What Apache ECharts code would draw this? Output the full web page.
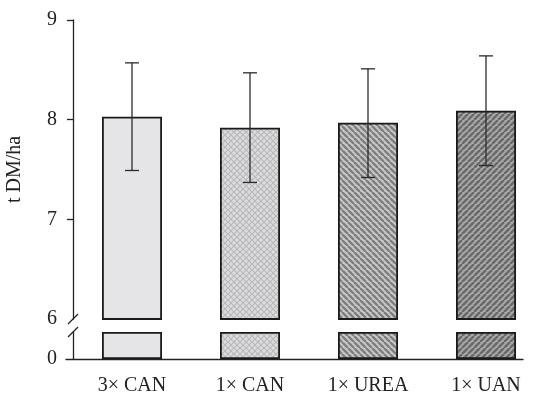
<!DOCTYPE html>
<html>
<head>
<meta charset="utf-8">
<script src="https://cdn.jsdelivr.net/npm/echarts@6/dist/echarts.min.js"></script>
<style>
  html, body { margin: 0; padding: 0; background: #fff; }
  #chart { width: 543px; height: 397px; }
</style>
</head>
<body>
<div id="chart"></div>
<script>
// Dry-matter yield per fertiliser treatment (t DM/ha), mean with error range
const categories = ['3\u00d7 CAN', '1\u00d7 CAN', '1\u00d7 UREA', '1\u00d7 UAN'];
const meanYield = [8.03, 7.92, 7.97, 8.09];
const errLow = [7.49, 7.37, 7.42, 7.54];
const errHigh = [8.57, 8.47, 8.51, 8.64];
const upperTicks = [6, 7, 8, 9];
const lowerTicks = [0];

const FONT = '"Liberation Serif", "DejaVu Serif", serif';
const INK = '#222';
const FS = 20;

// ---- fill patterns for each treatment ----
function makeTile(size, draw) {
  const c = document.createElement('canvas');
  c.width = size; c.height = size;
  draw(c.getContext('2d'), size);
  return { image: c, repeat: 'repeat' };
}
const solidFill = '#e5e5e7';
const crossFill = makeTile(6, (g, s) => {
  g.fillStyle = '#dcdcde'; g.fillRect(0, 0, s, s);
  g.strokeStyle = '#b9b9bb'; g.lineWidth = 1.2;
  g.beginPath();
  g.moveTo(0, 0); g.lineTo(s, s);
  g.moveTo(s, 0); g.lineTo(0, s);
  g.stroke();
});
function stripeTile(size, bg, fg, width, forward) {
  return makeTile(size, (g, s) => {
    g.fillStyle = bg; g.fillRect(0, 0, s, s);
    g.strokeStyle = fg; g.lineWidth = width;
    g.beginPath();
    for (let k = -1; k <= 1; k++) {
      if (forward) { g.moveTo(k * s, s); g.lineTo(k * s + s, 0); }
      else { g.moveTo(k * s, 0); g.lineTo(k * s + s, s); }
    }
    g.stroke();
  });
}
const ureaFill = stripeTile(6, '#c9c9c9', '#7f7f7f', 2.4, false);
const uanFill = stripeTile(6, '#ababab', '#6a6a6a', 2.6, true);
const fills = [solidFill, crossFill, ureaFill, uanFill];

const barStyle = (i) => ({
  color: fills[i],
  borderColor: '#1a1a1a',
  borderWidth: 1.8
});

const lowerMax = 6;
const stubValues = meanYield.map(v => Math.min(v, lowerMax));

const AXIS_X = 73;
const chart = echarts.init(document.getElementById('chart'), null, { renderer: 'canvas' });

const option = {
  animation: false,
  backgroundColor: '#fff',
  grid: [
    { left: AXIS_X, top: 20, width: 472, height: 299, outerBoundsMode: 'none', containLabel: false },   // upper panel 6..9
    { left: AXIS_X, top: 332, width: 472, height: 27, outerBoundsMode: 'none', containLabel: false },   // lower panel 0..6 (compressed)
    { left: 66, top: 358, width: 457, height: 1, outerBoundsMode: 'none', containLabel: false }         // baseline
  ],
  xAxis: [
    { gridIndex: 0, type: 'category', data: categories, show: false },
    {
      gridIndex: 1, type: 'category', data: categories,
      axisLine: { show: false }, axisTick: { show: false },
      axisLabel: { color: INK, fontFamily: FONT, fontSize: FS, margin: 17 }
    },
    {
      gridIndex: 2, type: 'value', min: 0, max: 1,
      axisLine: { show: true, lineStyle: { color: INK, width: 1.3 } },
      axisTick: { show: false }, axisLabel: { show: false }, splitLine: { show: false }
    }
  ],
  yAxis: [
    {
      gridIndex: 0, type: 'value', min: 6, max: 9, interval: 1,
      name: 't DM/ha', nameLocation: 'middle', nameGap: 48,
      nameTextStyle: { color: INK, fontFamily: FONT, fontSize: FS },
      axisLine: { show: true, lineStyle: { color: INK, width: 1.3 } },
      axisTick: { show: true, length: 6, customValues: [7, 8, 9], lineStyle: { color: INK, width: 1.3 } },
      axisLabel: { color: INK, fontFamily: FONT, fontSize: FS, margin: 16, customValues: upperTicks },
      splitLine: { show: false }
    },
    {
      gridIndex: 1, type: 'value', min: 0, max: lowerMax, interval: lowerMax,
      axisLine: { show: true, lineStyle: { color: INK, width: 1.3 } },
      axisTick: { show: false },
      axisLabel: { color: INK, fontFamily: FONT, fontSize: FS, margin: 16, customValues: lowerTicks },
      splitLine: { show: false }
    },
    { gridIndex: 2, type: 'value', show: false, min: 0, max: 1 }
  ],
  series: [
    {
      type: 'bar', xAxisIndex: 0, yAxisIndex: 0, barWidth: 60, clip: true,
      data: meanYield.map((v, i) => ({ value: v, itemStyle: barStyle(i) }))
    },
    {
      type: 'bar', xAxisIndex: 1, yAxisIndex: 1, barWidth: 60,
      data: stubValues.map((v, i) => ({ value: v, itemStyle: barStyle(i) }))
    },
    {
      type: 'custom', xAxisIndex: 0, yAxisIndex: 0, z: 5,
      data: categories.map((c, i) => [i, errLow[i], errHigh[i]]),
      encode: { x: 0, y: [1, 2] },
      renderItem: (params, api) => {
        const lo = api.coord([api.value(0), api.value(1)]);
        const hi = api.coord([api.value(0), api.value(2)]);
        const cap = 7;
        const style = { stroke: '#2a2a2a', lineWidth: 1.3 };
        return {
          type: 'group',
          children: [
            { type: 'line', shape: { x1: hi[0], y1: hi[1], x2: lo[0], y2: lo[1] }, style },
            { type: 'line', shape: { x1: hi[0] - cap, y1: hi[1], x2: hi[0] + cap, y2: hi[1] }, style },
            { type: 'line', shape: { x1: lo[0] - cap, y1: lo[1], x2: lo[0] + cap, y2: lo[1] }, style }
          ]
        };
      }
    }
  ]
};
chart.setOption(option);

// Axis-break slashes placed at the ends of the two y-axis segments
const yUpper = chart.convertToPixel({ yAxisIndex: 0 }, 6);
const yLower = chart.convertToPixel({ yAxisIndex: 1 }, lowerMax);
const slash = (yc) => ({
  type: 'line', z: 10,
  shape: { x1: AXIS_X - 5, y1: yc + 5, x2: AXIS_X + 5, y2: yc - 5 },
  style: { stroke: INK, lineWidth: 1.3 }
});
chart.setOption({ graphic: [slash(yUpper), slash(yLower)] });
</script>
</body>
</html>
